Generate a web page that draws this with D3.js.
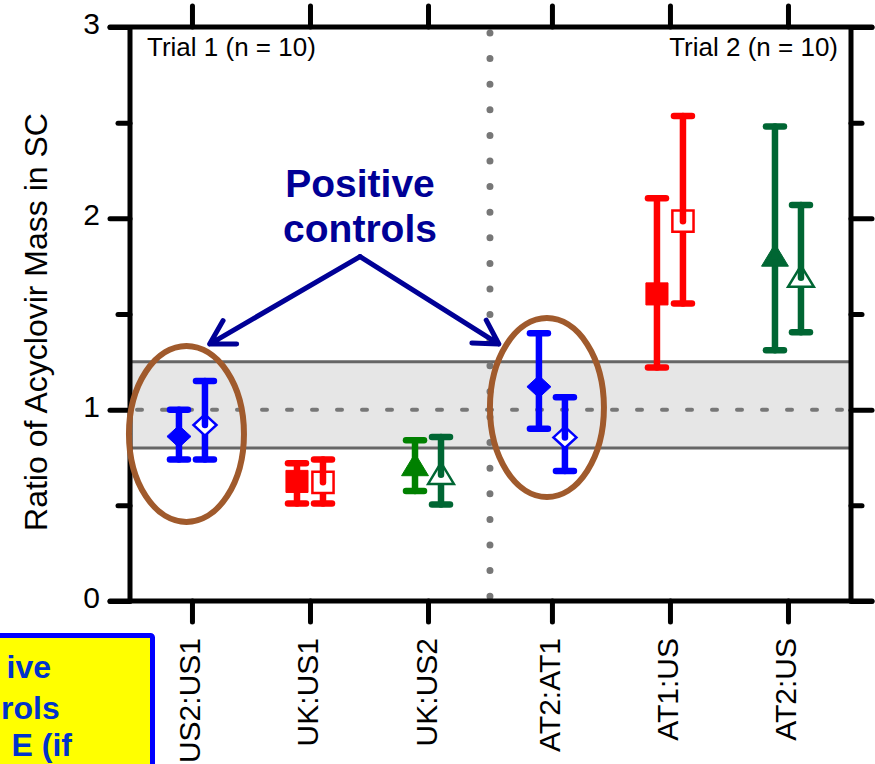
<!DOCTYPE html>
<html>
<head>
<meta charset="utf-8">
<script src="https://cdn.jsdelivr.net/npm/d3@7/dist/d3.min.js"></script>
<style>
  html, body { margin: 0; padding: 0; background: #fff; }
  svg { display: block; font-family: "Liberation Sans", Arial, sans-serif; }
</style>
</head>
<body>
<svg id="chart" width="875" height="764"></svg>
<script>
// ---- data ----
const categories = ['US2:US1', 'UK:US1', 'UK:US2', 'AT2:AT1', 'AT1:US', 'AT2:US'];
const catPos     = [1, 2, 3, 4.05, 5.05, 6.05];   // small gap between trial 1 and trial 2
const shapes     = ['diamond', 'square', 'triangle', 'diamond', 'square', 'triangle'];
const colFilled  = ['#0000ff', '#ff0000', '#008000', '#0000ff', '#ff0000', '#006633'];
const colOpen    = ['#0000ff', '#ff0000', '#006633', '#0000ff', '#ff0000', '#006633'];

// filled marker series
const filledMean = [0.86, 0.625, 0.705, 1.12, 1.605, 1.80];
const filledLow  = [0.74, 0.51, 0.575, 0.90, 1.22, 1.31];
const filledHigh = [1.00, 0.72, 0.84, 1.40, 2.105, 2.48];
// open marker series
const openMean   = [0.92, 0.62, 0.66, 0.855, 1.985, 1.69];
const openLow    = [0.74, 0.51, 0.505, 0.68, 1.555, 1.405];
const openHigh   = [1.15, 0.74, 0.857, 1.065, 2.535, 2.07];

const yMajor = [0, 1, 2, 3];
const yMinor = [0.5, 1.5, 2.5];
const band   = [0.80, 1.25];
const divider = 3.525;

const svg = d3.select('#chart');
const L = 130, R = 851, T = 27, B = 601;
const x = d3.scaleLinear().domain([0.475, 6.584]).range([L, R]);
const y = d3.scaleLinear().domain([0, 3]).range([B, T]);

const gridG = svg.append('g');

// acceptance band
gridG.append('rect')
  .attr('x', L).attr('y', y(band[1]))
  .attr('width', R - L).attr('height', y(band[0]) - y(band[1]))
  .attr('fill', '#e6e6e6');
band.forEach(v => {
  gridG.append('line')
    .attr('x1', L).attr('x2', R).attr('y1', y(v)).attr('y2', y(v))
    .attr('stroke', '#666').attr('stroke-width', 3);
});
gridG.append('line')
  .attr('x1', L + 7).attr('x2', R).attr('y1', y(1)).attr('y2', y(1))
  .attr('stroke', '#777').attr('stroke-width', 4)
  .attr('stroke-dasharray', '5 20').attr('stroke-linecap', 'round');

// trial divider (dotted)
gridG.append('line')
  .attr('x1', x(divider)).attr('x2', x(divider))
  .attr('y1', T + 6).attr('y2', B)
  .attr('stroke', '#777').attr('stroke-width', 7)
  .attr('stroke-dasharray', '0 25.6').attr('stroke-linecap', 'round');

// ---- axes ----
function styleAxis(g) {
  g.select('.domain').remove();
  g.selectAll('.tick line')
    .attr('stroke', '#000').attr('stroke-width', 5).attr('stroke-linecap', 'round');
  g.selectAll('.tick text')
    .attr('fill', '#000').attr('font-family', '"Liberation Sans", Arial, sans-serif');
}

svg.append('g').attr('transform', `translate(${L},0)`)
  .call(d3.axisLeft(y).tickValues(yMajor).tickSize(20).tickPadding(10).tickFormat(d3.format('d')))
  .call(styleAxis)
  .call(g => g.selectAll('.tick text').attr('font-size', 30).attr('dy', '0.22em'));
svg.append('g').attr('transform', `translate(${L},0)`)
  .call(d3.axisLeft(y).tickValues(yMinor).tickSize(12).tickFormat(''))
  .call(styleAxis);
svg.append('g').attr('transform', `translate(${R},0)`)
  .call(d3.axisRight(y).tickValues(yMajor).tickSize(21).tickFormat(''))
  .call(styleAxis);
svg.append('g').attr('transform', `translate(${R},0)`)
  .call(d3.axisRight(y).tickValues(yMinor).tickSize(11).tickFormat(''))
  .call(styleAxis);
svg.append('g').attr('transform', `translate(0,${T})`)
  .call(d3.axisTop(x).tickValues(catPos).tickSize(21).tickFormat(''))
  .call(styleAxis);
svg.append('g').attr('transform', `translate(0,${B})`)
  .call(d3.axisBottom(x).tickValues(catPos).tickSize(21).tickFormat((d, i) => categories[i]))
  .call(styleAxis)
  .call(g => g.selectAll('.tick text')
    .attr('font-size', 30)
    .attr('transform', 'rotate(-90)')
    .attr('text-anchor', 'end')
    .attr('x', -37).attr('y', 8).attr('dy', 0));

// frame
const frame = svg.append('g')
  .attr('stroke', '#000').attr('stroke-width', 5).attr('stroke-linecap', 'round');
frame.append('line').attr('x1', L - 20).attr('x2', R + 21).attr('y1', T).attr('y2', T);
frame.append('line').attr('x1', L - 20).attr('x2', R + 21).attr('y1', B).attr('y2', B);
frame.append('line').attr('x1', L).attr('x2', L).attr('y1', T).attr('y2', B).attr('stroke-linecap', 'butt');
frame.append('line').attr('x1', R).attr('x2', R).attr('y1', T).attr('y2', B).attr('stroke-linecap', 'butt');

// axis title
svg.append('text')
  .attr('transform', `translate(47,${(T + B) / 2 + 8}) rotate(-90)`)
  .attr('text-anchor', 'middle')
  .attr('font-size', 32)
  .text('Ratio of Acyclovir Mass in SC');

// trial labels
svg.append('text').attr('x', L + 17).attr('y', T + 29).attr('font-size', 26).text('Trial 1 (n = 10)');
svg.append('text').attr('x', R - 13).attr('y', T + 29).attr('font-size', 26)
  .attr('text-anchor', 'end').text('Trial 2 (n = 10)');

// ---- annotation ellipses ----
const ellipseG = svg.append('g');
[[1, 0.873, 57.5, 88], [4.05, 1.011, 57, 89.5]].forEach(([cx, cy, rx, ry], i) => {
  ellipseG.append('ellipse')
    .attr('cx', x(cx) - 5.5 + i * 0.5).attr('cy', y(cy))
    .attr('rx', rx).attr('ry', ry)
    .attr('fill', 'none').attr('stroke', '#a05a2c').attr('stroke-width', 6);
});

// ---- error bars + markers ----
const off = 13, capHalf = 9;
function markerPath(shape, s) {
  if (shape === 'diamond') return `M0,${-s * 0.92}L${s},0L0,${s * 0.92}L${-s},0Z`;
  if (shape === 'square') return `M${-s * 0.92},${-s * 0.92}H${s * 0.92}V${s * 0.92}H${-s * 0.92}Z`;
  return `M0,${-s * 1.05}L${s * 1.12},${s * 0.8}H${-s * 1.12}Z`;
}

function drawSeries(mean, low, high, colors, filled, dx) {
  const g = svg.append('g');
  categories.forEach((c, i) => {
    const cx = x(catPos[i]) + dx;
    const col = colors[i];
    const bar = g.append('g')
      .attr('stroke', col).attr('stroke-width', 6.5).attr('stroke-linecap', 'round');
    // lower half + cap
    bar.append('line').attr('x1', cx).attr('x2', cx).attr('y1', y(mean[i])).attr('y2', y(low[i]));
    bar.append('line').attr('x1', cx - capHalf).attr('x2', cx + capHalf).attr('y1', y(low[i])).attr('y2', y(low[i]));
    // marker
    g.append('path')
      .attr('transform', `translate(${cx},${y(mean[i])})`)
      .attr('d', markerPath(shapes[i], filled ? 12 : 11.5))
      .attr('fill', filled ? col : '#fff')
      .attr('stroke', col).attr('stroke-width', filled ? 1 : 2.5)
      .attr('stroke-linejoin', 'miter');
    // upper half + cap (drawn on top of marker)
    const top = g.append('g')
      .attr('stroke', col).attr('stroke-width', 6.5).attr('stroke-linecap', 'round');
    top.append('line').attr('x1', cx).attr('x2', cx).attr('y1', y(high[i])).attr('y2', y(mean[i]));
    top.append('line').attr('x1', cx - capHalf).attr('x2', cx + capHalf).attr('y1', y(high[i])).attr('y2', y(high[i]));
  });
}
drawSeries(filledMean, filledLow, filledHigh, colFilled, true, -off);
drawSeries(openMean, openLow, openHigh, colOpen, false, off);

// ---- "Positive controls" callout ----
const navy = '#000096';
const ann = svg.append('g');
const labelX = x(2.424);
ann.append('text')
  .attr('x', labelX).attr('y', y(2.11))
  .attr('text-anchor', 'middle').attr('font-size', 39).attr('font-weight', 'bold')
  .attr('fill', navy)
  .selectAll('tspan').data(['Positive', 'controls']).join('tspan')
  .attr('x', labelX).attr('dy', (d, i) => i ? 45 : 0).text(d => d);

const apex = [labelX, y(1.80)];
const tips = [[x(1.15), y(1.343)], [x(3.60), y(1.343)]];
tips.forEach(tip => {
  const ang = Math.atan2(apex[1] - tip[1], apex[0] - tip[0]);
  const len = 27, spread = Math.PI / 6;
  const a1 = [tip[0] + len * Math.cos(ang - spread), tip[1] + len * Math.sin(ang - spread)];
  const a2 = [tip[0] + len * Math.cos(ang + spread), tip[1] + len * Math.sin(ang + spread)];
  ann.append('path')
    .attr('d', `M${apex}L${tip}M${a1}L${tip}L${a2}`)
    .attr('fill', 'none').attr('stroke', navy).attr('stroke-width', 5)
    .attr('stroke-linecap', 'round').attr('stroke-linejoin', 'round');
});

// ---- partly visible yellow note box at bottom-left ----
const note = svg.append('g');
note.append('rect')
  .attr('x', -10).attr('y', 635.5).attr('width', 162.5).attr('height', 150).attr('rx', 2)
  .attr('fill', '#ffff00').attr('stroke', '#0000ff').attr('stroke-width', 5);
note.selectAll('text.note')
  .data([['ive', 51, 678, 'end'], ['rols', 1, 719, 'start'], ['E (if', 72, 756, 'end']])
  .join('text').attr('class', 'note')
  .attr('x', d => d[1]).attr('y', d => d[2])
  .attr('text-anchor', d => d[3]).attr('font-size', 32).attr('font-weight', 'bold')
  .attr('fill', '#0033cc').text(d => d[0]);
</script>
</body>
</html>
